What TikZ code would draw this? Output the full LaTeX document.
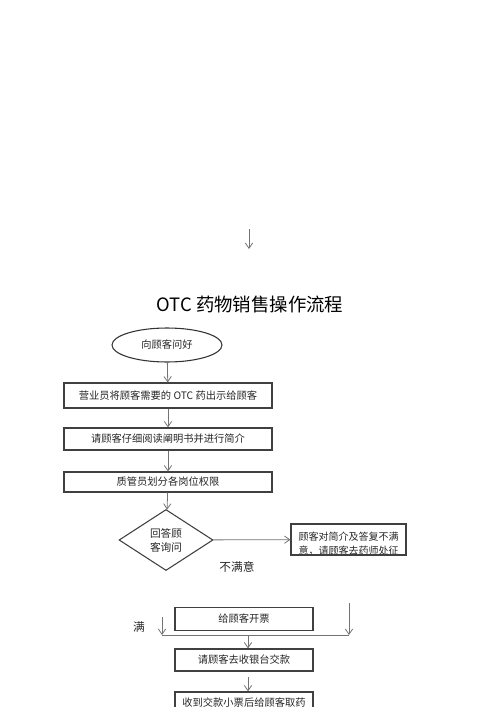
\documentclass[tikz,border=0pt]{standalone}
\usepackage{fontspec}
\newfontfamily\cjk{Noto Sans CJK SC}
\usetikzlibrary{shapes.geometric,arrows.meta}

\begin{document}
\begin{tikzpicture}
  [x=0.75pt,y=-0.75pt,
   every node/.style={font=\cjk\fontsize{7.7}{9}\selectfont,text=black!85},
   stepbox/.style={draw=black!75,line width=0.8pt,inner sep=0pt},
   startnode/.style={ellipse,draw=black!80,line width=0.8pt,inner sep=0pt,minimum width=82.5pt,minimum height=25.5pt},
   asknode/.style={diamond,draw=black!75,line width=0.8pt,inner sep=0pt,aspect=1.54,minimum width=70.5pt,minimum height=45.75pt,align=center,font=\cjk\fontsize{8}{10.5}\selectfont},
   arr/.style={draw=black!55,line width=0.6pt,-{Straight Barb[length=4pt,width=5.5pt]}},
   link/.style={draw=black!55,line width=0.6pt}]

  \useasboundingbox (0,0) rectangle (500,707);
  \clip (0,0) rectangle (500,707);

  \node[font=\cjk\fontsize{13.8}{16}\selectfont,text=black] (t) at (250,305) {OTC 药物销售操作流程};
  \node[startnode] (n1) at (167,345) {向顾客问好};
  \node[stepbox,minimum width=156pt,minimum height=18.75pt] (n2) at (168,395.5) {营业员将顾客需要的 OTC 药出示给顾客};
  \node[stepbox,minimum width=156pt,minimum height=16.5pt] (n3) at (168,439) {请顾客仔细阅读阐明书并进行简介};
  \node[stepbox,minimum width=156pt,minimum height=15pt] (n4) at (168,482) {质管员划分各岗位权限};
  \node[asknode] (n5) at (166,540) {回答顾\\客询问};
  \node[stepbox,minimum width=86.25pt,minimum height=23.25pt,
        path picture={\node[align=center,font=\cjk\fontsize{7.5}{10.5}\selectfont]
          at ([yshift=-3.5pt]path picture bounding box.center) {顾客对简介及答复不满\\意，请顾客去药师处征};}]
        (n6) at (348.5,539.5) {};
  \node[font=\cjk\fontsize{8.8}{10}\selectfont] (n7) at (237,567) {不满意};
  \node[font=\cjk\fontsize{8.8}{10}\selectfont] (n8) at (139,627) {满};
  \node[stepbox,minimum width=103.5pt,minimum height=17.25pt] (n9) at (244,619) {给顾客开票};
  \node[stepbox,minimum width=103.5pt,minimum height=16.5pt] (n10) at (244,660) {请顾客去收银台交款};
  \node[stepbox,minimum width=103.5pt,minimum height=16.5pt] (n11) at (244,703) {收到交款小票后给顾客取药};

  \coordinate (c1) at (249,229);
  \coordinate (c2) at (249,249);
  \coordinate (c3) at (162,617);
  \coordinate (c4) at (162,635);
  \coordinate (c5) at (349,603);
  \coordinate (c6) at (349,635);
  \coordinate (c7) at (248,635);
  \coordinate (c8) at (248,677);

  \foreach \from/\to in {c1/c2,n1/n2,n2/n3,n3/n4,n4/n5,n5/n6,c3/c4,c5/c6}
    \draw[arr] (\from) -- (\to);
  \draw[arr] (c7) -- (c7 |- n10.north);
  \draw[arr] (c8) -- (c8 |- n11.north);
  \draw[link] (c4) -- (c6);
\end{tikzpicture}
\end{document}
